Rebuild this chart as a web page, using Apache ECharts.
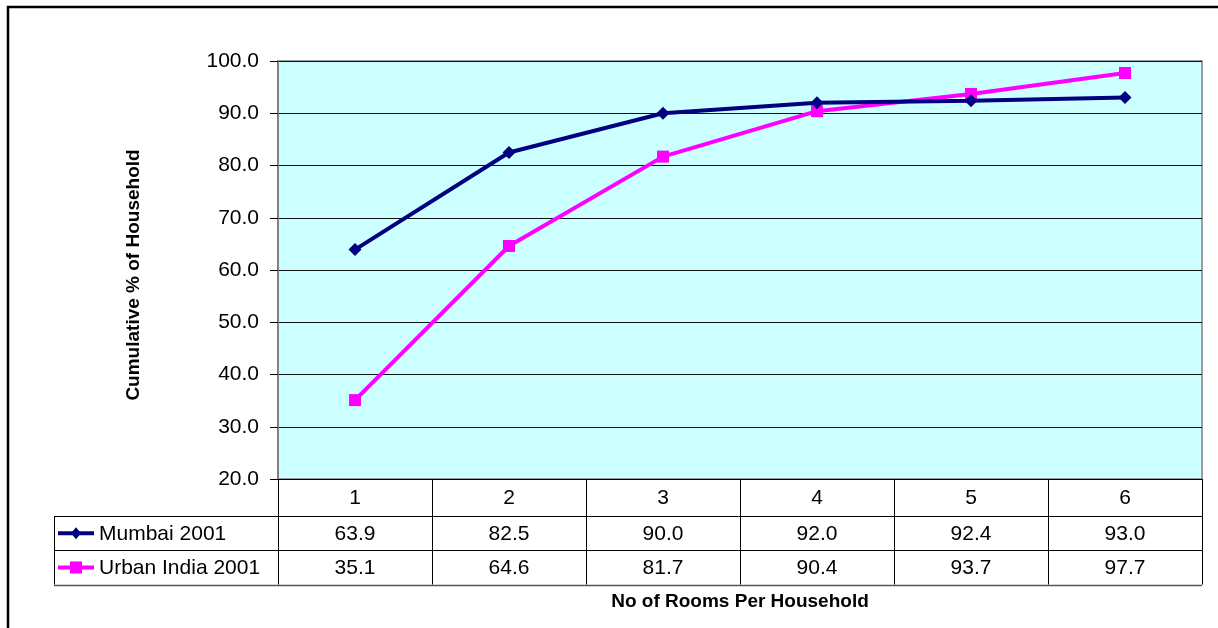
<!DOCTYPE html>
<html>
<head>
<meta charset="utf-8">
<script src="https://cdn.jsdelivr.net/npm/echarts@6/dist/echarts.min.js"></script>
<style>
html,body{margin:0;padding:0;background:#fff;}
#c{width:1218px;height:628px;}
</style>
</head>
<body>
<div id="c"></div>
<script>
var categories = ['1', '2', '3', '4', '5', '6'];
var mumbai = [63.9, 82.5, 90.0, 92.0, 92.4, 93.0];
var urban = [35.1, 64.6, 81.7, 90.4, 93.7, 97.7];
var seriesNames = ['Mumbai 2001', 'Urban India 2001'];
var yTicks = { min: 20, max: 100, interval: 10 };
var xTitle = 'No of Rooms Per Household';
var yTitle = 'Cumulative % of Household';

var FONT = '"Liberation Sans", Arial, sans-serif';
var NAVY = '#000080';
var MAGENTA = '#FF00FF';
var FS = 21;

var chart = echarts.init(document.getElementById('c'));
chart.setOption({
  animation: false,
  backgroundColor: '#ffffff',
  grid: {
    left: 278, right: 16, top: 61, bottom: 149,
    show: true, backgroundColor: '#CCFFFF', borderColor: '#808080', borderWidth: 1.5
  },
  xAxis: {
    type: 'category',
    data: categories,
    boundaryGap: true,
    axisLine: { show: true, lineStyle: { color: '#000', width: 1 } },
    axisTick: { show: false },
    axisLabel: { margin: 9, fontSize: FS, color: '#000', fontFamily: FONT },
    splitLine: { show: false }
  },
  yAxis: {
    type: 'value',
    min: yTicks.min, max: yTicks.max, interval: yTicks.interval,
    axisLine: { show: true, lineStyle: { color: '#808080', width: 2 } },
    axisTick: { show: true, length: 8, lineStyle: { color: '#000', width: 1 } },
    axisLabel: { margin: 19, fontSize: FS, color: '#000', fontFamily: FONT,
      formatter: function (v) { return v.toFixed(1); } },
    splitLine: { show: true, lineStyle: { color: '#111', width: 1 } }
  },
  series: [
    { name: seriesNames[0], type: 'line', data: mumbai, symbol: 'diamond', symbolSize: 13,
      lineStyle: { color: NAVY, width: 4 }, itemStyle: { color: NAVY }, z: 3 },
    { name: seriesNames[1], type: 'line', data: urban, symbol: 'rect', symbolSize: 12,
      lineStyle: { color: MAGENTA, width: 4 }, itemStyle: { color: MAGENTA }, z: 2 }
  ]
});

// Build data table beneath the plot from the axis scale
function buildTable() {
  var c0 = chart.convertToPixel({ xAxisIndex: 0 }, 0);
  var c1 = chart.convertToPixel({ xAxisIndex: 0 }, 1);
  var bw = c1 - c0;
  var y0 = chart.convertToPixel({ yAxisIndex: 0 }, yTicks.min);
  var yTop = chart.convertToPixel({ yAxisIndex: 0 }, yTicks.max);
  var headerH = 37, rowH = 34.3;
  var r1 = y0 + headerH, r2 = r1 + rowH, r3 = r2 + rowH;
  var leftX = 54;
  var xL = c0 - bw / 2, xR = c0 + bw * (categories.length - 0.5);
  var els = [];
  var ls = { stroke: '#000', lineWidth: 1 };
  function line(x1, y1, x2, y2, style) {
    els.push({ type: 'line', shape: { x1: x1, y1: y1, x2: x2, y2: y2 }, style: style || ls, z: 10 });
  }
  for (var i = 0; i <= categories.length; i++) {
    var bx = Math.round(c0 - bw / 2 + i * bw) + 0.5;
    line(bx, y0, bx, r3);
  }
  line(leftX + 0.5, r1, leftX + 0.5, r3);
  line(leftX, Math.round(r1) + 0.5, xR, Math.round(r1) + 0.5);
  line(leftX, Math.round(r2) + 0.5, xR, Math.round(r2) + 0.5);
  line(leftX, Math.round(r3) + 0.5, xR, Math.round(r3) + 0.5, { stroke: '#555', lineWidth: 1.5 });

  var rows = [mumbai, urban];
  var colors = [NAVY, MAGENTA];
  var symbols = ['diamond', 'rect'];
  var rowTops = [r1, r2];
  for (var r = 0; r < rows.length; r++) {
    var cy = rowTops[r] + rowH / 2 + 1;
    for (var j = 0; j < rows[r].length; j++) {
      var cx = chart.convertToPixel({ xAxisIndex: 0 }, j);
      els.push({ type: 'text', x: cx, y: cy, z: 11,
        style: { text: rows[r][j].toFixed(1), fontSize: FS, fontFamily: FONT, fill: '#000',
          align: 'center', verticalAlign: 'middle' } });
    }
    els.push({ type: 'line', shape: { x1: 58, y1: cy - 1, x2: 94, y2: cy - 1 },
      style: { stroke: colors[r], lineWidth: 4 }, z: 11 });
    if (symbols[r] === 'diamond') {
      els.push({ type: 'polygon', shape: { points: [[76, cy - 7], [81, cy - 1], [76, cy + 5], [71, cy - 1]] },
        style: { fill: colors[r] }, z: 12 });
    } else {
      els.push({ type: 'rect', shape: { x: 70, y: cy - 7, width: 12, height: 12 },
        style: { fill: colors[r] }, z: 12 });
    }
    els.push({ type: 'text', x: 99, y: cy, z: 11,
      style: { text: seriesNames[r], fontSize: FS, fontFamily: FONT, fill: '#000',
        align: 'left', verticalAlign: 'middle' } });
  }
  // axis titles
  els.push({ type: 'text', x: (xL + xR) / 2, y: r3 + 17, z: 11,
    style: { text: xTitle, fontSize: 19, fontWeight: 'bold', fontFamily: FONT, fill: '#000',
      align: 'center', verticalAlign: 'middle' } });
  els.push({ type: 'text', x: 134, y: (y0 + yTop) / 2 + 5, rotation: Math.PI / 2, z: 11,
    style: { text: yTitle, fontSize: 19, fontWeight: 'bold', fontFamily: FONT, fill: '#000',
      align: 'center', verticalAlign: 'middle' } });
  // outer frame
  els.push({ type: 'rect', shape: { x: 8, y: 7, width: 1240, height: 660 },
    style: { fill: 'none', stroke: '#000', lineWidth: 2.5 }, z: 1 });
  chart.setOption({ graphic: { elements: els } });
}
buildTable();
</script>
</body>
</html>
